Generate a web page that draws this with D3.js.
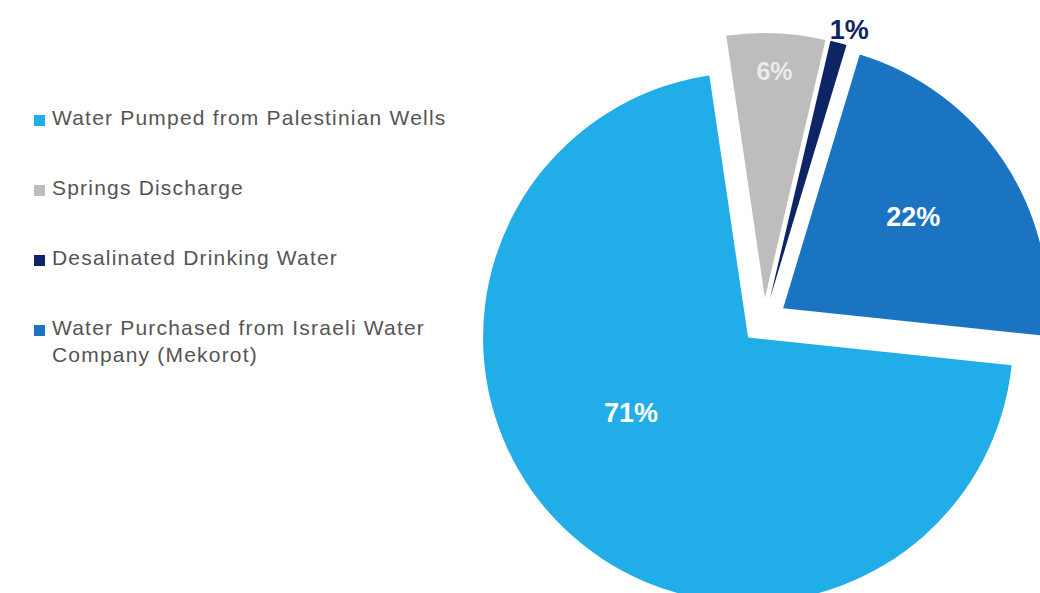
<!DOCTYPE html>
<html>
<head>
<meta charset="utf-8">
<script src="https://cdn.jsdelivr.net/npm/d3@7"></script>
<style>
  html, body { margin: 0; padding: 0; background: #ffffff; }
  svg { display: block; }
</style>
</head>
<body>
<svg id="chart" width="1040" height="593"></svg>
<script>
// Sources of water supply (share of total, %)
const categories = [
  "Water Pumped from Palestinian Wells",
  "Springs Discharge",
  "Desalinated Drinking Water",
  "Water Purchased from Israeli Water Company (Mekorot)"
];
const values = [71, 6, 1, 22];
const valueLabels = ["71%", "6%", "1%", "22%"];
const legendLines = [
  ["Water Pumped from Palestinian Wells"],
  ["Springs Discharge"],
  ["Desalinated Drinking Water"],
  ["Water Purchased from Israeli Water", "Company (Mekorot)"]
];
const colors = ["#21aee8", "#bdbdbd", "#0d2465", "#1a74c2"];

const svg = d3.select("#chart");

// Pie geometry
const cx = 764, cy = 321, R = 265, explode = 23;
const startDeg = 96;

const pie = d3.pie()
  .sort(null)
  .value(d => d)
  .startAngle(startDeg * Math.PI / 180)
  .endAngle((startDeg + 360) * Math.PI / 180);

const arcs = pie(values);
const arc = d3.arc().innerRadius(0).outerRadius(R);

const pieG = svg.append("g").attr("transform", `translate(${cx},${cy})`);

function offset(d) {
  const a = (d.startAngle + d.endAngle) / 2;
  return [Math.sin(a) * explode, -Math.cos(a) * explode];
}

pieG.selectAll("path.slice")
  .data(arcs)
  .join("path")
  .attr("class", "slice")
  .attr("transform", d => { const o = offset(d); return `translate(${o[0]},${o[1]})`; })
  .attr("d", arc)
  .attr("fill", (d, i) => colors[i]);

// Value labels: radial position as a fraction of R, plus a small angular shift (degrees)
const labelRadius = [0.525, 0.855, 1.06, 0.6];
const labelShift = [13.5, 0, 1.4, -1.5];
const labelFill = ["#ffffff", "#ececec", "#0d2465", "#ffffff"];
pieG.selectAll("text.val")
  .data(arcs)
  .join("text")
  .attr("class", "val")
  .attr("transform", (d, i) => {
    const o = offset(d);
    const a = (d.startAngle + d.endAngle) / 2 + labelShift[i] * Math.PI / 180;
    const r = R * labelRadius[i];
    return `translate(${o[0] + Math.sin(a) * r},${o[1] - Math.cos(a) * r})`;
  })
  .attr("text-anchor", "middle")
  .attr("dy", "0.35em")
  .attr("font-family", "'Liberation Sans', Arial, sans-serif")
  .attr("font-weight", "bold")
  .attr("font-size", (d, i) => i === 1 ? 25 : 27)
  .attr("fill", (d, i) => labelFill[i])
  .text((d, i) => valueLabels[i]);

// Legend
const legend = svg.append("g").attr("transform", "translate(34,125)");
const rowStep = 70, lineStep = 27;
const rows = legend.selectAll("g.row")
  .data(categories)
  .join("g")
  .attr("class", "row")
  .attr("transform", (d, i) => `translate(0,${i * rowStep})`);

rows.append("rect")
  .attr("x", 0).attr("y", -10)
  .attr("width", 11).attr("height", 11)
  .attr("fill", (d, i) => colors[i]);

rows.append("text")
  .attr("x", 18)
  .attr("y", 0)
  .attr("font-family", "'Liberation Sans', Arial, sans-serif")
  .attr("font-size", 21)
  .attr("letter-spacing", "1.2px")
  .attr("fill", "#555555")
  .each(function (d, i) {
    d3.select(this).selectAll("tspan")
      .data(legendLines[i])
      .join("tspan")
      .attr("x", 18)
      .attr("dy", (t, j) => j === 0 ? 0 : lineStep)
      .text(t => t);
  });
</script>
</body>
</html>
